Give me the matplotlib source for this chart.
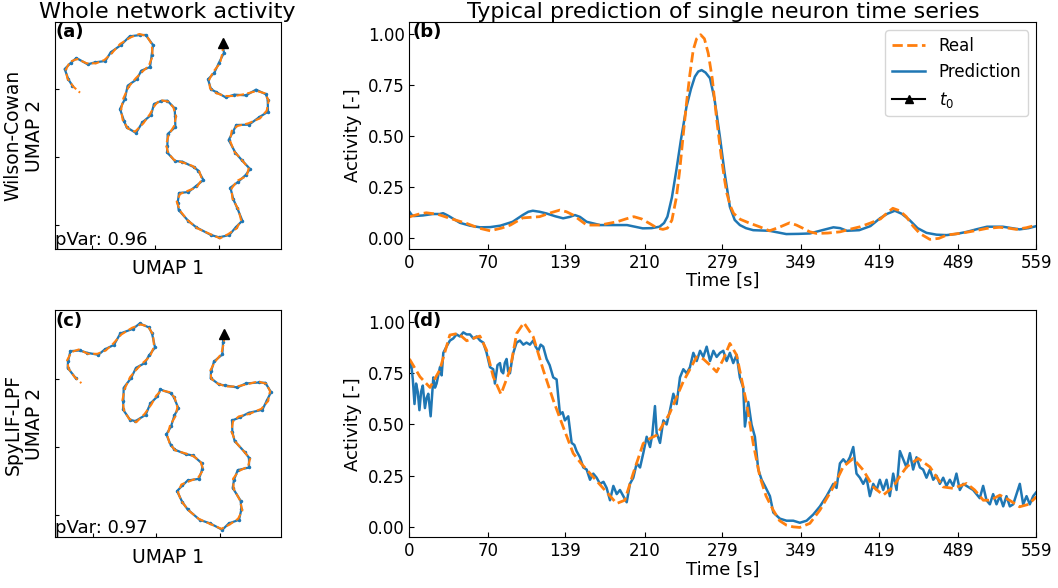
import matplotlib
matplotlib.use('Agg')
import matplotlib.pyplot as plt

#UMAP trajectory of the real network (same for both models), first point is t0
real_u1 = [5.48, 5.48, 5.40, 5.20, 5.07, 5.10, 5.30, 5.55, 5.85, 6.15, 6.50, 6.75, 6.86, 6.80, 6.60, 6.25, 5.92, 5.75, 5.70, 5.83,
           6.08, 6.26, 6.20, 5.92, 5.75, 5.77, 5.95, 6.03, 5.90, 5.65, 5.40, 5.10, 4.72, 4.42, 4.20, 4.10, 4.20, 4.42, 4.70, 4.86,
           4.78, 4.58, 4.30, 4.02, 3.85, 3.78, 3.86, 4.02, 4.08, 4.00, 3.85, 3.60, 3.45, 3.30, 3.10, 2.85, 2.63, 2.48, 2.43, 2.50,
           2.66, 2.87, 3.07, 3.26, 3.38, 3.35, 3.20, 2.98, 2.72, 2.40, 2.15, 1.93, 1.68, 1.40, 1.12, 0.90, 0.77, 0.82, 1.00, 1.20]
real_u2 = [6.30, 6.05, 5.70, 5.45, 5.20, 4.95, 4.80, 4.72, 4.72, 4.78, 4.87, 4.80, 4.58, 4.28, 4.05, 3.90, 3.82, 3.67, 3.38, 3.05,
           2.77, 2.55, 2.32, 2.18, 1.95, 1.65, 1.32, 1.00, 0.75, 0.58, 0.45, 0.58, 0.75, 1.00, 1.28, 1.55, 1.78, 1.87, 1.98, 2.22,
           2.45, 2.62, 2.72, 2.80, 3.00, 3.25, 3.55, 3.82, 4.10, 4.38, 4.55, 4.60, 4.45, 4.18, 3.90, 3.65, 3.75, 4.00, 4.30, 4.65,
           5.00, 5.25, 5.45, 5.62, 5.92, 6.28, 6.52, 6.58, 6.48, 6.28, 6.00, 5.80, 5.70, 5.70, 5.83, 5.75, 5.50, 5.25, 5.00, 4.82]

#Predicted UMAP trajectory, Wilson-Cowan
wc_u1 = [5.48, 5.52, 5.37, 5.23, 5.04, 5.13, 5.28, 5.57, 5.83, 6.18, 6.48, 6.78, 6.83, 6.84, 6.57, 6.27, 5.89, 5.78, 5.66, 5.86,
         6.05, 6.30, 6.17, 5.95, 5.71, 5.80, 5.92, 6.07, 5.87, 5.68, 5.37, 5.13, 4.69, 4.45, 4.16, 4.13, 4.17, 4.45, 4.67, 4.90,
         4.75, 4.61, 4.27, 4.05, 3.81, 3.82, 3.83, 4.06, 4.05, 4.04, 3.82, 3.63, 3.42, 3.33, 3.07, 2.88, 2.60, 2.52, 2.40, 2.54,
         2.63, 2.90, 3.04, 3.30, 3.35, 3.39, 3.17, 3.01, 2.69, 2.43, 2.12, 1.96, 1.65, 1.43, 1.09, 0.93, 0.74, 0.85, 0.97]
wc_u2 = [6.22, 6.02, 5.72, 5.42, 5.22, 4.92, 4.84, 4.68, 4.76, 4.74, 4.91, 4.77, 4.61, 4.25, 4.08, 3.86, 3.85, 3.63, 3.40, 3.02,
         2.80, 2.53, 2.35, 2.15, 1.97, 1.62, 1.35, 0.98, 0.78, 0.55, 0.48, 0.55, 0.78, 0.97, 1.30, 1.52, 1.81, 1.84, 2.01, 2.20,
         2.48, 2.59, 2.75, 2.77, 3.03, 3.22, 3.58, 3.79, 4.13, 4.35, 4.58, 4.57, 4.48, 4.15, 3.93, 3.61, 3.78, 3.97, 4.33, 4.62,
         5.03, 5.22, 5.48, 5.59, 5.95, 6.25, 6.55, 6.55, 6.51, 6.25, 6.03, 5.77, 5.73, 5.67, 5.86, 5.72, 5.53, 5.22, 5.03]

#Predicted UMAP trajectory, SpyLIF-LPF
lif_u1 = [5.46, 5.45, 5.43, 5.18, 5.09, 5.08, 5.33, 5.52, 5.88, 6.13, 6.53, 6.72, 6.89, 6.77, 6.63, 6.22, 5.95, 5.72, 5.73, 5.80,
          6.11, 6.23, 6.23, 5.89, 5.78, 5.74, 5.98, 6.00, 5.93, 5.62, 5.43, 5.07, 4.75, 4.39, 4.23, 4.07, 4.23, 4.39, 4.73, 4.83,
          4.81, 4.55, 4.33, 3.99, 3.88, 3.75, 3.89, 3.99, 4.11, 3.97, 3.88, 3.57, 3.48, 3.27, 3.13, 2.82, 2.66, 2.45, 2.46, 2.47,
          2.69, 2.84, 3.10, 3.23, 3.41, 3.32, 3.23, 2.95, 2.75, 2.37, 2.18, 1.90, 1.71, 1.37, 1.15, 0.87, 0.80, 0.79, 1.03]
lif_u2 = [6.20, 6.04, 5.68, 5.47, 5.17, 4.97, 4.78, 4.75, 4.69, 4.81, 4.84, 4.83, 4.55, 4.31, 4.02, 3.93, 3.79, 3.70, 3.35, 3.08,
          2.74, 2.58, 2.29, 2.21, 1.92, 1.68, 1.29, 1.03, 0.72, 0.61, 0.42, 0.61, 0.72, 1.03, 1.25, 1.58, 1.75, 1.90, 1.95, 2.25,
          2.42, 2.65, 2.69, 2.83, 2.97, 3.28, 3.52, 3.85, 4.07, 4.41, 4.52, 4.63, 4.42, 4.21, 3.87, 3.68, 3.72, 4.03, 4.27, 4.68,
          4.97, 5.28, 5.42, 5.65, 5.89, 6.31, 6.49, 6.61, 6.45, 6.31, 5.97, 5.83, 5.67, 5.73, 5.80, 5.78, 5.47, 5.28, 4.97]

#Single neuron, Wilson-Cowan
wc_real_t = [0, 8, 15, 25, 36, 51, 62, 72, 82, 90, 101, 116, 126, 134, 140, 146, 158, 170, 185, 193,
             200, 207, 214, 221, 226, 230, 234, 238, 241, 244, 247, 250, 253, 256, 259.6, 263, 266.4, 270, 274, 278,
             281, 283, 286, 289, 295, 303, 312, 321, 330, 339, 345, 351, 357, 363, 373, 384, 393, 402, 411, 420,
             426, 431, 437, 443, 449, 455, 464, 472, 479, 494, 505, 515, 526, 534, 541, 550, 559]
wc_real_v = [0.105, 0.118, 0.125, 0.118, 0.098, 0.073, 0.05, 0.037, 0.05, 0.065, 0.10, 0.106, 0.125, 0.138, 0.13, 0.114, 0.065, 0.065, 0.081, 0.095,
             0.106, 0.095, 0.073, 0.05, 0.044, 0.05, 0.089, 0.2, 0.334, 0.5, 0.66, 0.8, 0.92, 0.975, 0.995, 0.975, 0.904, 0.78, 0.578, 0.40,
             0.285, 0.22, 0.16, 0.122, 0.093, 0.075, 0.057, 0.037, 0.055, 0.076, 0.065, 0.049, 0.032, 0.024, 0.026, 0.032, 0.045, 0.057, 0.075, 0.095,
             0.125, 0.147, 0.135, 0.106, 0.06, 0.024, -0.005, 0.0, 0.016, 0.027, 0.038, 0.049, 0.054, 0.05, 0.044, 0.052, 0.065]
wc_pred_t = [0, 2, 4, 12, 21, 27, 30, 33, 36, 45, 54, 63, 72, 81, 92, 101, 106, 110, 116, 122,
             130, 137, 143, 147.5, 152, 158, 170, 182, 194, 201, 208, 216, 223, 227, 230, 234, 238, 242, 247, 251,
             254.5, 257.5, 260.5, 264, 268, 272, 276.8, 281, 285.7, 290, 294.6, 300, 306.5, 321, 336, 347, 357, 368, 378, 384,
             390, 401, 411, 419.5, 426, 432.8, 439, 446, 453, 461, 470, 479, 488, 497, 506, 515, 529, 537, 544, 552, 559]
wc_pred_v = [0.13, 0.115, 0.109, 0.112, 0.119, 0.119, 0.123, 0.115, 0.106, 0.076, 0.062, 0.054, 0.055, 0.062, 0.081, 0.114, 0.13, 0.135, 0.13, 0.122,
             0.108, 0.098, 0.105, 0.114, 0.105, 0.081, 0.065, 0.065, 0.065, 0.057, 0.049, 0.05, 0.057, 0.075, 0.106, 0.2, 0.334, 0.48, 0.643, 0.73,
             0.79, 0.815, 0.822, 0.81, 0.782, 0.68, 0.496, 0.32, 0.154, 0.09, 0.065, 0.05, 0.04, 0.037, 0.021, 0.022, 0.024, 0.04, 0.054, 0.05,
             0.037, 0.04, 0.06, 0.098, 0.12, 0.135, 0.12, 0.089, 0.05, 0.027, 0.018, 0.016, 0.022, 0.032, 0.045, 0.057, 0.057, 0.05, 0.044, 0.05, 0.06]

#Single neuron, SpyLIF-LPF
lif_real_t = [0, 9.4, 18.3, 27, 36, 43.5, 51, 62.8, 68.8, 74.7, 81.6, 89.6, 95.6, 102, 110.4, 119.3, 128.2, 137, 146, 153,
              161, 172.8, 179, 184.7, 192, 199.5, 208.4, 214, 220.4, 232, 244, 256, 262, 268, 273.9, 280, 285.7, 291.7, 300.6, 306.5,
              312.5, 318, 324.3, 330, 336.2, 342, 348, 357, 366, 378, 386.7, 395.6, 404.6, 413.5, 422.4, 431.3, 437, 443.3, 453.6, 464,
              475.9, 484.8, 496.7, 504, 511.6, 518, 526.4, 535, 544, 552, 559]
lif_real_v = [0.82, 0.733, 0.681, 0.766, 0.937, 0.945, 0.909, 0.932, 0.863, 0.733, 0.648, 0.766, 0.945, 0.997, 0.928, 0.766, 0.619, 0.489, 0.359, 0.31,
              0.261, 0.188, 0.15, 0.114, 0.13, 0.261, 0.407, 0.43, 0.448, 0.554, 0.708, 0.83, 0.82, 0.79, 0.757, 0.82, 0.896, 0.839, 0.603, 0.407,
              0.244, 0.15, 0.082, 0.03, 0.008, 0.0, -0.003, 0.017, 0.082, 0.195, 0.293, 0.334, 0.277, 0.195, 0.155, 0.195, 0.245, 0.293, 0.334, 0.293,
              0.195, 0.188, 0.212, 0.18, 0.13, 0.13, 0.155, 0.13, 0.098, 0.11, 0.147]
lif_pred_t = [0, 1.5, 3, 4.5, 5.9, 7.4, 8.9, 10.4, 11.9, 13.8, 15.3, 16.8, 18.9, 21.3, 22.8, 24.2, 25.7, 27.2, 28.7, 30.2,
              33, 36.1, 39, 42, 45, 48, 51, 54, 57, 59.9, 63, 65.8, 68.8, 71.8, 74.7, 76.2, 78.5, 80.7, 82, 83.6,
              85, 86.6, 88, 89.6, 91, 92.6, 95.5, 98.5, 101.5, 104.4, 107.4, 110.4, 112.5, 114.9, 117, 119.3, 122.3, 125, 128.2, 131.2,
              134.2, 136.5, 138.6, 141.6, 144.6, 147, 149, 152, 155, 158, 161, 163.9, 166.9, 169.9, 173, 175.8, 178.8, 181.8, 184.8, 187.7,
              190.7, 193.7, 196.6, 199.6, 202.6, 205.6, 208.5, 211.5, 214.5, 216.5, 218.9, 220.4, 223.4, 226.4, 229.3, 232.3, 235.3, 238.2, 241.2, 244.2,
              247.2, 250.1, 253.1, 256.1, 259.1, 262, 265, 268, 271, 273.9, 276.9, 279.8, 282.8, 285.7, 288.7, 291.7, 294.6, 297.6, 299.1, 302.1,
              305, 308, 311, 314, 316.9, 321.4, 324.4, 330.3, 336.2, 342.2, 348.1, 354.1, 360, 366, 371.9, 377.9, 380.8, 383.8, 386.8, 389.8,
              392.7, 395.7, 398.6, 401.6, 404.6, 407.5, 410.5, 413.5, 416.5, 419.4, 422.4, 425.4, 428.3, 431.3, 434.3, 437.3, 440.2, 443.2, 446.2, 449.1,
              452.1, 455.1, 458, 461, 464, 467, 469.9, 472.9, 475.9, 478.8, 481.8, 484.8, 487.7, 490.7, 493.7, 496.7, 502.6, 508.5, 511.5, 514.5,
              517.5, 520.4, 523.4, 526.4, 529.4, 532.3, 535.3, 538.3, 541.2, 544.2, 547.2, 550.2, 553.1, 556.1, 559]
lif_pred_v = [0.78, 0.80, 0.72, 0.60, 0.70, 0.66, 0.57, 0.66, 0.69, 0.58, 0.63, 0.65, 0.54, 0.73, 0.68, 0.70, 0.74, 0.78, 0.74, 0.85,
              0.88, 0.91, 0.92, 0.94, 0.93, 0.95, 0.94, 0.94, 0.92, 0.93, 0.91, 0.90, 0.85, 0.78, 0.77, 0.70, 0.79, 0.80, 0.76, 0.75,
              0.80, 0.82, 0.76, 0.75, 0.80, 0.85, 0.90, 0.91, 0.89, 0.90, 0.89, 0.91, 0.88, 0.86, 0.89, 0.88, 0.82, 0.79, 0.73, 0.72,
              0.55, 0.56, 0.52, 0.54, 0.41, 0.40, 0.37, 0.34, 0.29, 0.28, 0.23, 0.26, 0.24, 0.21, 0.22, 0.19, 0.13, 0.20, 0.16, 0.18,
              0.15, 0.12, 0.21, 0.24, 0.31, 0.29, 0.36, 0.44, 0.39, 0.45, 0.59, 0.46, 0.41, 0.52, 0.50, 0.57, 0.65, 0.60, 0.73, 0.77,
              0.75, 0.78, 0.85, 0.81, 0.86, 0.83, 0.88, 0.81, 0.86, 0.83, 0.85, 0.86, 0.81, 0.85, 0.80, 0.84, 0.73, 0.68, 0.49, 0.61,
              0.50, 0.44, 0.28, 0.23, 0.20, 0.15, 0.07, 0.04, 0.03, 0.03, 0.02, 0.03, 0.06, 0.10, 0.15, 0.21, 0.19, 0.31, 0.33, 0.31,
              0.34, 0.39, 0.26, 0.24, 0.21, 0.24, 0.15, 0.21, 0.18, 0.23, 0.18, 0.23, 0.15, 0.26, 0.18, 0.37, 0.33, 0.29, 0.36, 0.28,
              0.34, 0.29, 0.28, 0.24, 0.28, 0.23, 0.25, 0.21, 0.24, 0.20, 0.23, 0.20, 0.26, 0.18, 0.21, 0.20, 0.18, 0.14, 0.20, 0.13,
              0.11, 0.16, 0.11, 0.15, 0.10, 0.15, 0.10, 0.11, 0.16, 0.21, 0.11, 0.15, 0.11, 0.15, 0.17]

time_ticks = [0, 70, 139, 210, 279, 349, 419, 489, 559]
act_ticks = [0.0, 0.25, 0.5, 0.75, 1.0]
model_names = ['Wilson-Cowan', 'SpyLIF-LPF']
pvars = ['0.96', '0.97']

blue = '#1f77b4'
orange = '#ff7f0e'
plt.rcParams['font.size'] = 12

fig = plt.figure(figsize=(10.58, 5.88), dpi=100)
ax_a = fig.add_axes([0.0517, 0.5765, 0.2136, 0.3861])
ax_c = fig.add_axes([0.0517, 0.0859, 0.2136, 0.3861])
ax_b = fig.add_axes([0.3870, 0.5765, 0.5926, 0.3861])
ax_d = fig.add_axes([0.3870, 0.0859, 0.5926, 0.3861])

#UMAP panels
umap_data = [(ax_a, wc_u1, wc_u2, '(a)', (0.44, 7.22), (0.13, 6.94)),
             (ax_c, lif_u1, lif_u2, '(c)', (0.40, 7.18), (0.19, 7.00))]
for i, (ax, pu1, pu2, lab, xl, yl) in enumerate(umap_data):
    ax.plot(pu1, pu2, '-', color=blue, lw=1.6, marker='.', ms=3)
    ax.plot(real_u1, real_u2, '--', color=orange, lw=1.5)
    ax.plot(real_u1[0], real_u2[0], '^', color='k', ms=7)
    ax.set_xlim(xl)
    ax.set_ylim(yl)
    ax.set_xticks([1.55, 3.45, 5.37])
    ax.set_yticks([0.85, 2.90, 4.93])
    ax.set_xticklabels([])
    ax.set_yticklabels([])
    ax.tick_params(direction='in', length=3)
    ax.set_xlabel('UMAP 1', fontsize=13.5)
    ax.set_ylabel(model_names[i] + '\nUMAP 2', fontsize=13.5)
    ax.text(0.005, 0.995, lab, transform=ax.transAxes, fontweight='bold', fontsize=13, va='top', ha='left')
    ax.text(0.0, 0.0, 'pVar: ' + pvars[i], transform=ax.transAxes, fontsize=13, va='bottom', ha='left')
ax_a.set_title('Whole network activity', fontsize=16, pad=3)

#Time series panels
ts_data = [(ax_b, wc_real_t, wc_real_v, wc_pred_t, wc_pred_v, '(b)'),
           (ax_d, lif_real_t, lif_real_v, lif_pred_t, lif_pred_v, '(d)')]
for ax, rt, rv, pt, pv, lab in ts_data:
    hp, = ax.plot(pt, pv, '-', color=blue, lw=1.8, label='Prediction')
    hr, = ax.plot(rt, rv, '--', color=orange, lw=2, label='Real')
    ax.set_xlim(0, 559)
    ax.set_ylim(-0.052, 1.057)
    ax.set_xticks(time_ticks)
    ax.set_yticks(act_ticks)
    ax.tick_params(direction='in', labelsize=12)
    ax.set_xlabel('Time [s]', fontsize=13, labelpad=0)
    ax.set_ylabel('Activity [-]', fontsize=13)
    ax.text(0.005, 0.995, lab, transform=ax.transAxes, fontweight='bold', fontsize=13, va='top', ha='left')
    if lab == '(b)':
        ht, = ax.plot([], [], '-^', color='k', label='$t_0$')
        ax.legend(handles=[hr, hp, ht], loc='upper right', fontsize=12)
ax_b.set_title('Typical prediction of single neuron time series', fontsize=16, pad=3)

fig.savefig('out.png', dpi=100)
